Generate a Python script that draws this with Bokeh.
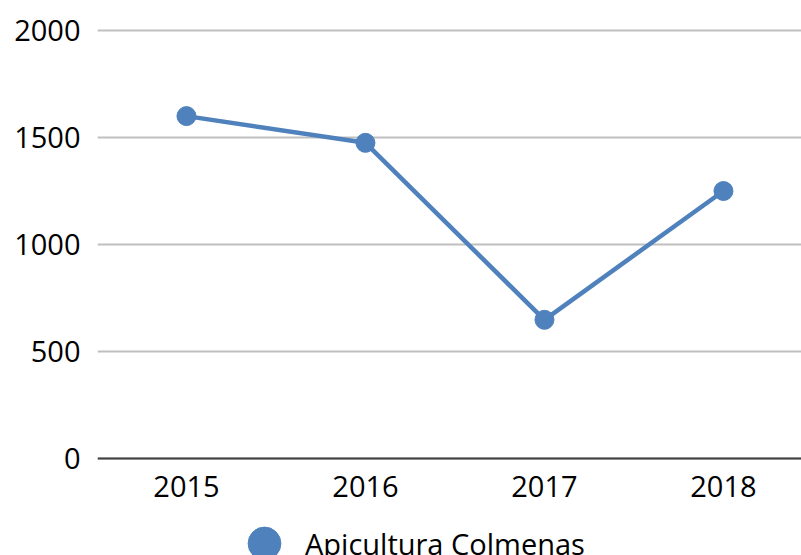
from bokeh.plotting import figure
from bokeh.models import Range1d, FixedTicker, Legend, LegendItem, ColumnDataSource
from bokeh.embed import file_html
from bokeh.resources import INLINE

years = [2015, 2016, 2017, 2018]
colmenas = [1600, 1475, 648, 1250]
y_ticks = [0, 500, 1000, 1500, 2000]
series_name = "Apicultura Colmenas"

BLUE = "#4F81BD"
FONT = "Open Sans"

src = ColumnDataSource(dict(x=years, y=colmenas))

p = figure(width=801, height=555, output_backend="svg", toolbar_location=None,
           x_range=Range1d(2014.503, 2018.436), y_range=Range1d(-453.3, 2018.7),
           min_border_left=97, min_border_right=0, min_border_top=26, min_border_bottom=0)
p.outline_line_color = None
p.background_fill_color = "white"
p.border_fill_color = "white"

ln = p.line("x", "y", source=src, line_color=BLUE, line_width=4.5)
sc = p.scatter("x", "y", source=src, size=19, fill_color=BLUE, line_color=BLUE)

p.xaxis.ticker = FixedTicker(ticks=years)
p.yaxis.ticker = FixedTicker(ticks=y_ticks)
p.xgrid.grid_line_color = None
p.ygrid.grid_line_color = "#BFBFBF"
p.ygrid.grid_line_width = 2

for ax in (p.xaxis[0], p.yaxis[0]):
    ax.major_tick_line_color = None
    ax.minor_tick_line_color = None
    ax.major_tick_out = 0
    ax.major_tick_in = 0
    ax.major_label_text_font = FONT
    ax.major_label_text_font_size = "29px"
    ax.major_label_text_color = "#000000"

p.yaxis.axis_line_color = None
p.yaxis.major_label_standoff = 17
p.xaxis.fixed_location = 0
p.xaxis.axis_line_color = "#404040"
p.xaxis.axis_line_width = 2
p.xaxis.major_label_standoff = 18

legend = Legend(items=[LegendItem(label=series_name, renderers=[sc])],
                location=(126, -29), orientation="horizontal",
                glyph_width=82, glyph_height=82, label_standoff=0,
                padding=0, margin=0, spacing=0,
                border_line_color=None, background_fill_alpha=0,
                label_text_font=FONT, label_text_font_size="29px",
                label_text_color="#000000")
p.add_layout(legend, "center")

open("out.html", "w").write(file_html(p, INLINE))
